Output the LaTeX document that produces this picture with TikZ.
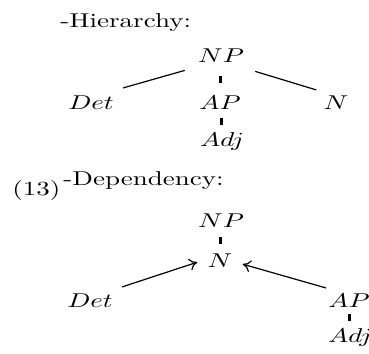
\documentclass[tikz,border=0pt]{standalone}
\usepackage{graphicx}
\usetikzlibrary{calc,arrows.meta}
\newcommand\stretchtxt[1]{\scalebox{1.35}[1]{#1}}
\newcommand\stretchrm[1]{\scalebox{1.35}[1]{#1}}
\begin{document}
\begin{tikzpicture}[x=0.5pt,y=-0.5pt,
  lbl/.style={inner sep=0pt, anchor=base, font=\normalsize},
  head/.style={lbl, anchor=base west},
  edge/.style={line width=0.6pt},
  dep/.style={line width=0.6pt, -{To[length=4pt,width=6pt]}},
  bar/.style={line width=1.5pt}]
\useasboundingbox (0,0) rectangle (369,353);
% Hierarchy
\node[head] (hier) at (60,28) {\stretchrm{-Hierarchy:}};
\node[lbl] (NPa) at (221,63) {\stretchtxt{$NP$}};
\node[lbl] (Deta) at (91,110) {\stretchtxt{$Det$}};
\node[lbl] (APa) at (220,110) {\stretchtxt{$AP$}};
\node[lbl] (Na) at (336,110) {\stretchtxt{$N$}};
\node[lbl] (Adja) at (222,146) {\stretchtxt{$Adj$}};
\draw[edge] ([shift={(-13,7)}]NPa.south west) -- ([shift={(9,-8)}]Deta.north east);
\draw[edge] ([shift={(11,8)}]NPa.south east) -- ([shift={(-7,-6)}]Na.north west);
\draw[bar] ($(NPa.south)!0.5!(APa.north)+(0,-3.5)$) -- ($(NPa.south)!0.5!(APa.north)+(0,3.5)$);
\draw[bar] ($(APa.south)!0.5!(Adja.north)+(0,-3.5)$) -- ($(APa.south)!0.5!(Adja.north)+(0,3.5)$);
% Dependency
\node[head] (num) at (12,195) {\stretchrm{(13)}};
\node[head] (depn) at (63,185) {\stretchrm{-Dependency:}};
\node[lbl] (NPb) at (221,227) {\stretchtxt{$NP$}};
\node[lbl] (Nb) at (220,267) {\stretchtxt{$N$}};
\node[lbl] (Detb) at (90,307) {\stretchtxt{$Det$}};
\node[lbl] (APb) at (349,307) {\stretchtxt{$AP$}};
\node[lbl] (Adjb) at (350,342) {\stretchtxt{$Adj$}};
\draw[bar] ($(NPb.south)!0.5!(Nb.north)+(0,-3.5)$) -- ($(NPb.south)!0.5!(Nb.north)+(0,3.5)$);
\draw[bar] ($(APb.south)!0.5!(Adjb.north)+(0,-3.5)$) -- ($(APb.south)!0.5!(Adjb.north)+(0,3.5)$);
\draw[dep] ([shift={(9,-6)}]Detb.north east) -- ([shift={(-10,2)}]Nb.west);
\draw[dep] ([shift={(-2,-5)}]APb.north west) -- ([shift={(10,4)}]Nb.east);
\end{tikzpicture}
\end{document}
